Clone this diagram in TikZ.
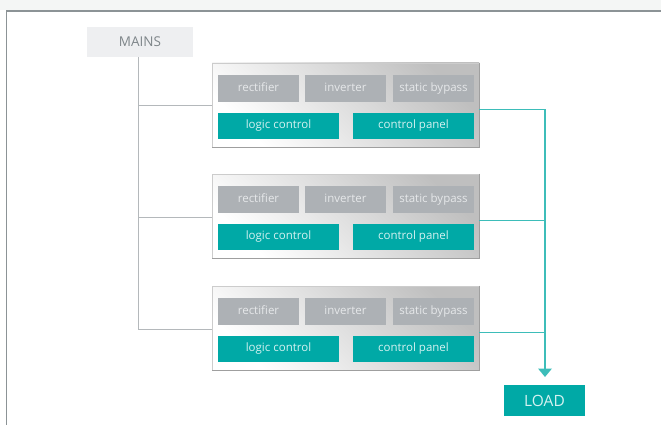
\documentclass[tikz,border=0pt]{standalone}
\usepackage{fontspec}
\setmainfont{Open Sans}
\usetikzlibrary{arrows.meta,calc}
\definecolor{teal1}{HTML}{00A9A6}
\definecolor{tealline}{HTML}{3DBDB9}
\definecolor{graybox}{HTML}{ADB1B5}
\definecolor{graytext}{HTML}{E6E8EA}
\definecolor{tealtext}{HTML}{D5F2F1}
\definecolor{mainsfill}{HTML}{EEEFF1}
\definecolor{mainstext}{HTML}{7E8589}
\definecolor{frame}{HTML}{8C9396}
\definecolor{band}{HTML}{F4F6F5}
\definecolor{feed}{HTML}{B4B8BB}
\tikzset{
  px/.style={x=1pt,y=-1pt},
  unitbox/.style={draw=gray!40, line width=0.8pt, left color=white, right color=gray!50, shading angle=135, minimum width=267pt, minimum height=84pt, inner sep=0pt},
  subgray/.style={fill=graybox, text=graytext, minimum width=81pt, minimum height=27pt, inner sep=0pt, text height=8.2pt, text depth=2.8pt, font=\fontsize{11.5}{13}\selectfont},
  subteal/.style={fill=teal1, text=tealtext, minimum width=121pt, minimum height=26pt, inner sep=0pt, text height=8.2pt, text depth=2.8pt, font=\fontsize{11.5}{13}\selectfont},
  feedline/.style={draw=feed, line width=1pt},
  outline/.style={draw=tealline, line width=1.6pt},
}
\begin{document}
\begin{tikzpicture}[px]
\useasboundingbox (0,0) rectangle (661,425);
\fill[band] (0,0) rectangle (661,10.5);
\draw[frame, line width=1.2pt] (6.5,425) -- (6.5,11) -- (661,11);
\node[fill=mainsfill, text=mainstext, minimum width=106pt, minimum height=30pt, inner sep=0pt, font=\fontsize{13.5}{15}\selectfont] (mains) at (140,42) {MAINS};
\node[fill=teal1, text=tealtext, minimum width=81pt, minimum height=31pt, inner sep=0pt, font=\fontsize{15.5}{17}\selectfont] (load) at (544.5,400.5) {LOAD};
\coordinate (trunktop) at (138,57);
\coordinate (bus) at (545,109.5);
\coordinate (tip) at (545,377);
\foreach \i/\y in {1/105,2/216,3/328}{
  \node[unitbox] (u\i) at (345.5,\y) {};
  \draw[gray!75, line width=1pt] (u\i.north east) -- (u\i.south east) -- (u\i.south west);
  \node[subgray] at (258.5,\y-16.5) {rectifier};
  \node[subgray] at (345.5,\y-16.5) {inverter};
  \node[subgray] at (433.5,\y-16.5) {static bypass};
  \node[subteal] at (278.5,\y+21) {logic control};
  \node[subteal] at (413.5,\y+21) {control panel};
  \coordinate (fb\i) at (138,\y+1);
  \coordinate (ob\i) at (545,\y+4.5);
  \draw[feedline] (fb\i) -- (u\i.west |- fb\i);
  \draw[outline] (u\i.east |- ob\i) -- (ob\i);
}
\draw[feedline] (mains.south -| trunktop) -- (fb3);
\draw[outline] (bus) -- (545,369);
\fill[tealline] (538,368.5) -- (552,368.5) -- (tip) -- cycle;
\end{tikzpicture}
\end{document}
